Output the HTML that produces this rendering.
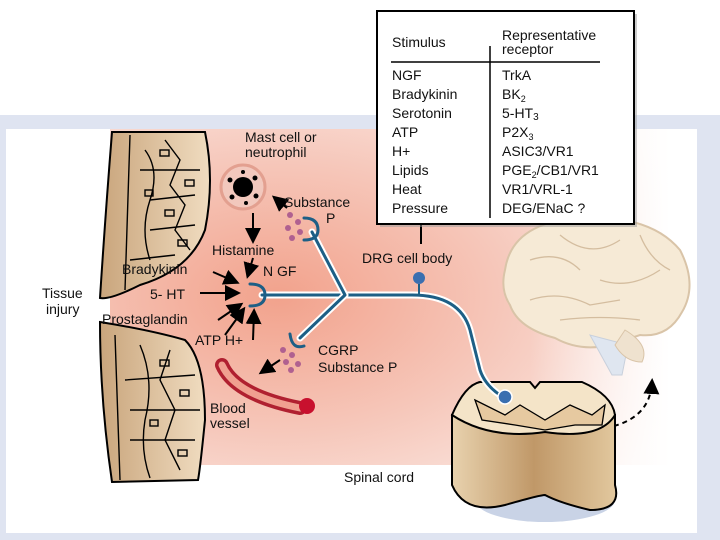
<!DOCTYPE html>
<html><head><meta charset="utf-8"><style>
html,body{margin:0;padding:0;background:#fff}
svg{display:block}
text{font-family:"Liberation Sans",sans-serif;fill:#111}
</style></head><body>
<svg width="720" height="540" viewBox="0 0 720 540" xmlns="http://www.w3.org/2000/svg">
<defs>
<radialGradient id="pk" cx="0.3" cy="0.5" r="0.8">
<stop offset="0" stop-color="#f2a28c"/><stop offset="0.5" stop-color="#f6c7ba"/><stop offset="1" stop-color="#fcefeb"/>
</radialGradient>
<linearGradient id="fade" x1="0" x2="1"><stop offset="0" stop-color="#fff" stop-opacity="0"/><stop offset="0.75" stop-color="#fff" stop-opacity="0"/><stop offset="1" stop-color="#fff" stop-opacity="1"/></linearGradient>
<linearGradient id="skin" x1="0" x2="1"><stop offset="0" stop-color="#c9a57c"/><stop offset="1" stop-color="#f0dcc0"/></linearGradient>
<linearGradient id="cord" x1="0" x2="1"><stop offset="0" stop-color="#e8d2ae"/><stop offset="0.5" stop-color="#c09868"/><stop offset="1" stop-color="#e2c89e"/></linearGradient>
<marker id="ah" markerWidth="8" markerHeight="8" refX="6" refY="4" orient="auto"><path d="M0,0 L8,4 L0,8 Z" fill="#000"/></marker>
</defs>
<rect x="0" y="115" width="720" height="425" fill="#dfe4f1"/>
<rect x="6" y="129" width="691" height="404" fill="#fff"/>
<rect x="110" y="129" width="560" height="336" fill="url(#pk)"/>
<rect x="110" y="129" width="560" height="336" fill="url(#fade)"/>
<!-- skin top -->
<path d="M112,132 L205,132 Q215,180 205,230 Q190,270 140,285 Q110,300 100,298 Q105,220 112,132 Z" fill="url(#skin)" stroke="#000" stroke-width="2"/>
<g stroke="#000" stroke-width="1.4" fill="none">
<path d="M130,135 L125,290 M145,150 Q160,170 150,200 Q140,230 150,260 M165,140 L180,160 L170,185 L185,205 L175,230 L190,250 M150,200 L195,195 M140,170 L200,170 M150,230 L195,225 M130,260 L175,255"/>
<rect x="160" y="150" width="9" height="6"/><rect x="185" y="180" width="9" height="6"/><rect x="165" y="210" width="9" height="6"/><rect x="178" y="240" width="9" height="6"/><rect x="145" y="190" width="8" height="6"/>
</g>
<!-- skin bottom -->
<path d="M100,322 Q150,330 185,340 Q205,360 205,420 Q200,470 198,480 L112,482 Q100,400 100,322 Z" fill="url(#skin)" stroke="#000" stroke-width="2"/>
<g stroke="#000" stroke-width="1.4" fill="none">
<path d="M115,335 L120,480 M140,345 Q155,380 145,420 Q140,450 150,478 M170,350 L160,380 L175,410 L165,440 L180,470 M125,380 L195,375 M130,410 L200,410 M130,440 L195,440"/>
<rect x="160" y="360" width="9" height="6"/><rect x="180" y="390" width="9" height="6"/><rect x="150" y="420" width="8" height="6"/><rect x="178" y="450" width="9" height="6"/>
</g>
<!-- brain -->
<path d="M505,270 Q512,222 580,218 Q650,214 680,250 Q698,285 682,312 Q668,338 640,335 L610,345 Q580,352 555,338 Q518,328 510,305 Q500,290 505,270 Z" fill="#f6ead6" stroke="#d9c4a8" stroke-width="2"/>
<g stroke="#d4bd9f" fill="none" stroke-width="1.3"><path d="M530,260 Q560,250 580,270 M560,235 Q590,260 620,240 M600,280 Q630,290 660,270 M530,300 Q560,290 590,305 L620,300 M640,235 Q650,260 670,270 M560,320 Q600,315 640,320"/></g>
<path d="M590,335 L612,375 L622,375 L628,345 Z" fill="#dfe6f0" stroke="#c8d0dc"/>
<path d="M625,330 Q650,345 642,362 Q625,362 615,345 Z" fill="#efe2cf" stroke="#d9c4a8"/>
<path d="M605,428 Q650,420 652,382" stroke="#000" stroke-width="2" fill="none" stroke-dasharray="5,4" marker-end="url(#ah)"/>
<!-- spinal cord -->
<ellipse cx="545" cy="500" rx="70" ry="22" fill="#c9d3e6"/>
<path d="M452,415 L452,485 Q465,515 505,505 Q540,495 545,495 Q560,503 590,510 Q622,510 615,485 L615,415 Z" fill="url(#cord)" stroke="#000" stroke-width="2"/>
<path d="M452,415 Q465,385 480,382 L530,382 L535,388 L540,382 L582,382 Q612,395 615,415 Q600,440 545,432 Q490,440 452,415 Z" fill="#f4e4c8" stroke="#000" stroke-width="2"/>
<path d="M475,400 L505,415 L520,405 L545,420 L570,405 L592,415 L605,405 L602,425 L575,425 L545,430 L515,425 L482,420 Z" fill="#e6c9a0" stroke="#000" stroke-width="1.3"/>
<!-- mast cell -->
<circle cx="243" cy="187" r="22" fill="#f2c8bd" stroke="#e3a090" stroke-width="3"/>
<circle cx="243" cy="187" r="10" fill="#000"/>
<g fill="#000"><circle cx="230" cy="180" r="2.5"/><circle cx="255" cy="178" r="2.5"/><circle cx="232" cy="197" r="2.5"/><circle cx="256" cy="196" r="2.5"/><circle cx="243" cy="172" r="2"/><circle cx="246" cy="203" r="2"/></g>
<!-- neuron -->
<g fill="none" stroke-linecap="round">
<path d="M262,295 L345,295 L412,295 Q460,295 470,330 L480,370 Q485,385 500,395" stroke="#fff" stroke-width="7"/>
<path d="M262,295 L345,295 L412,295 Q460,295 470,330 L480,370 Q485,385 500,395" stroke="#1d5f86" stroke-width="3"/>
<path d="M345,295 L312,232 M345,295 L300,338" stroke="#fff" stroke-width="7"/>
<path d="M345,295 L312,232 M345,295 L300,338" stroke="#1d5f86" stroke-width="3"/>
<path d="M250,284 Q265,284 265,295 Q265,306 250,306" stroke="#1d5f86" stroke-width="3"/>
<path d="M304,218 Q318,218 318,230 Q318,240 304,240" stroke="#1d5f86" stroke-width="3"/>
<path d="M290,334 Q292,350 304,346" stroke="#1d5f86" stroke-width="3"/>
</g>
<circle cx="505" cy="397" r="7" fill="#3a6fb0" stroke="#fff" stroke-width="1.5"/>
<g fill="#b06090"><circle cx="290" cy="215" r="3"/><circle cx="298" cy="222" r="3"/><circle cx="288" cy="228" r="3"/><circle cx="300" cy="232" r="3"/><circle cx="292" cy="238" r="3"/>
<circle cx="283" cy="350" r="3"/><circle cx="292" cy="355" r="3"/><circle cx="286" cy="362" r="3"/><circle cx="298" cy="364" r="3"/><circle cx="291" cy="370" r="3"/></g>
<circle cx="419" cy="278" r="6" fill="#3a6fb0"/><line x1="419" y1="284" x2="419" y2="295" stroke="#1d5f86" stroke-width="2"/>
<!-- blood vessel -->
<path d="M222,365 Q235,395 300,408" stroke="#b02030" stroke-width="14" fill="none" stroke-linecap="round"/>
<path d="M222,365 Q235,395 300,408" stroke="#f0a090" stroke-width="7" fill="none" stroke-linecap="round"/>
<circle cx="307" cy="406" r="8" fill="#c8102e"/>
<g stroke="#000" stroke-width="2" marker-end="url(#ah)">
<line x1="253" y1="213" x2="253" y2="240"/><line x1="253" y1="258" x2="248" y2="275"/>
<line x1="213" y1="272" x2="236" y2="282"/><line x1="200" y1="293" x2="237" y2="293"/>
<line x1="218" y1="320" x2="240" y2="305"/><line x1="225" y1="335" x2="243" y2="310"/><line x1="253" y1="340" x2="254" y2="312"/>
<line x1="287" y1="208" x2="275" y2="198"/><line x1="280" y1="360" x2="262" y2="372"/>
</g>
<g font-size="14">
<text x="245" y="142">Mast cell or</text><text x="245" y="157">neutrophil</text>
<text x="284" y="207">Substance</text><text x="326" y="223">P</text>
<text x="212" y="255">Histamine</text><text x="263" y="276">N GF</text>
<text x="122" y="274">Bradykinin</text><text x="150" y="299">5- HT</text>
<text x="42" y="298">Tissue</text><text x="46" y="314">injury</text>
<text x="102" y="324">Prostaglandin</text><text x="195" y="345">ATP  H+</text>
<text x="318" y="355">CGRP</text><text x="318" y="372">Substance  P</text>
<text x="210" y="413">Blood</text><text x="210" y="428">vessel</text>
<text x="362" y="263">DRG cell body</text>
<text x="344" y="482">Spinal cord</text>
</g>
<line x1="421" y1="225" x2="421" y2="244" stroke="#000" stroke-width="2"/>
<!-- table -->
<rect x="380" y="14" width="257" height="213" fill="#999" opacity="0.5"/>
<rect x="377" y="11" width="257" height="213" fill="#fff" stroke="#000" stroke-width="2"/>
<line x1="391" y1="62" x2="600" y2="62" stroke="#000" stroke-width="1.5"/>
<line x1="490" y1="46" x2="490" y2="218" stroke="#000" stroke-width="1.5"/>
<g font-size="14">
<text x="392" y="47">Stimulus</text>
<text x="502" y="40">Representative</text><text x="502" y="54">receptor</text>
<text x="392" y="80">NGF</text><text x="502" y="80">TrkA</text>
<text x="392" y="99">Bradykinin</text><text x="502" y="99">BK<tspan font-size="9" dy="3">2</tspan></text>
<text x="392" y="118">Serotonin</text><text x="502" y="118">5-HT<tspan font-size="10" dy="2">3</tspan></text>
<text x="392" y="137">ATP</text><text x="502" y="137">P2X<tspan font-size="9" dy="3">3</tspan></text>
<text x="392" y="156">H+</text><text x="502" y="156">ASIC3/VR1</text>
<text x="392" y="175">Lipids</text><text x="502" y="175">PGE<tspan font-size="9" dy="3">2</tspan><tspan dy="-3">/CB1/VR1</tspan></text>
<text x="392" y="194">Heat</text><text x="502" y="194">VR1/VRL-1</text>
<text x="392" y="213">Pressure</text><text x="502" y="213">DEG/ENaC ?</text>
</g>
</svg>
</body></html>
